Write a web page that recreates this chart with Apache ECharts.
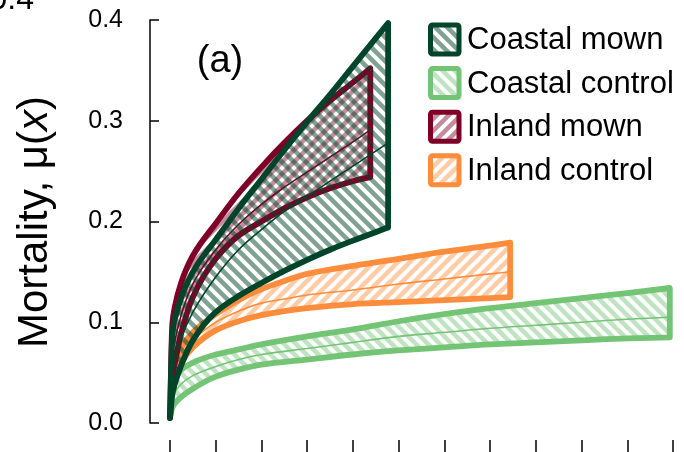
<!DOCTYPE html>
<html><head><meta charset="utf-8">
<script src="https://cdn.jsdelivr.net/npm/echarts@6/dist/echarts.min.js"></script>
<style>html,body{margin:0;padding:0;background:#fff}#c{width:684px;height:452px}</style>
</head><body><div id="c"></div>
<script>
// ---------- data ----------
const groupNames = ['Coastal mown', 'Coastal control', 'Inland mown', 'Inland control'];
const yTickValues = [0, 0.1, 0.2, 0.3, 0.4];
const xTickValues = [0, 1, 2, 3, 4, 5, 6, 7, 8, 9, 10, 11];

// Coastal mown
const cmX     = [0, 0.05, 0.1, 0.25, 0.5, 1, 1.5, 2, 2.5, 3, 3.5, 4, 4.77];
const cmUpper = [0.005, 0.088, 0.102, 0.125, 0.150, 0.182, 0.213, 0.242, 0.271, 0.299, 0.326, 0.354, 0.397];
const cmLower = [0.005, 0.028, 0.038, 0.058, 0.082, 0.110, 0.126, 0.139, 0.151, 0.162, 0.172, 0.181, 0.194];
const cmMean  = [0.005, 0.050, 0.062, 0.085, 0.110, 0.145, 0.172, 0.192, 0.210, 0.225, 0.240, 0.255, 0.278];

// Coastal control
const ccX     = [0, 0.05, 0.1, 0.25, 0.5, 1, 1.5, 2, 3, 4, 5, 6, 7, 8, 9, 10, 10.93];
const ccUpper = [0.005, 0.034, 0.043, 0.053, 0.060, 0.068, 0.073, 0.078, 0.086, 0.093, 0.101, 0.108, 0.114, 0.119, 0.124, 0.129, 0.134];
const ccLower = [0.005, 0.015, 0.019, 0.026, 0.034, 0.046, 0.053, 0.058, 0.063, 0.068, 0.072, 0.075, 0.078, 0.080, 0.082, 0.084, 0.085];
const ccMean  = [0.005, 0.024, 0.030, 0.039, 0.047, 0.056, 0.063, 0.068, 0.074, 0.080, 0.086, 0.090, 0.094, 0.097, 0.100, 0.103, 0.105];

// Inland mown
const imX     = [0, 0.05, 0.1, 0.25, 0.5, 1, 1.5, 2, 2.5, 3, 3.5, 4, 4.38];
const imUpper = [0.005, 0.098, 0.114, 0.140, 0.166, 0.198, 0.228, 0.254, 0.278, 0.300, 0.320, 0.338, 0.352];
const imLower = [0.005, 0.045, 0.058, 0.090, 0.125, 0.163, 0.186, 0.200, 0.213, 0.224, 0.233, 0.240, 0.244];
const imMean  = [0.005, 0.065, 0.080, 0.108, 0.138, 0.172, 0.197, 0.217, 0.234, 0.249, 0.264, 0.279, 0.291];

// Inland control
const icX     = [0, 0.05, 0.1, 0.25, 0.5, 1, 1.5, 2, 2.5, 3, 4, 5, 6, 7, 7.44];
const icUpper = [0.005, 0.050, 0.060, 0.075, 0.090, 0.108, 0.122, 0.133, 0.141, 0.148, 0.156, 0.163, 0.170, 0.176, 0.179];
const icLower = [0.005, 0.035, 0.045, 0.060, 0.075, 0.092, 0.101, 0.107, 0.111, 0.114, 0.118, 0.120, 0.122, 0.124, 0.125];
const icMean  = [0.005, 0.042, 0.052, 0.068, 0.082, 0.100, 0.111, 0.119, 0.123, 0.127, 0.132, 0.138, 0.143, 0.148, 0.150];

// ---------- styling ----------
const FONT = '"Liberation Sans", Arial, Helvetica, sans-serif';
const styles = {
  'Coastal mown':    { line: '#00452a', hatch: 'rgba(0,69,42,0.5)',      dir: 'back' },
  'Coastal control': { line: '#74c476', hatch: 'rgba(116,196,118,0.45)', dir: 'back' },
  'Inland mown':     { line: '#7f0026', hatch: 'rgba(127,0,38,0.45)',    dir: 'fwd' },
  'Inland control':  { line: '#fd8d3c', hatch: 'rgba(253,141,60,0.45)',  dir: 'fwd' }
};

function hatch(color, dir) {
  const s = 12;
  const c = document.createElement('canvas');
  c.width = s; c.height = s;
  const g = c.getContext('2d');
  g.strokeStyle = color; g.lineWidth = 4.5; g.lineCap = 'square';
  for (const o of [-s, 0, s]) {
    g.beginPath();
    if (dir === 'back') { g.moveTo(o, 0); g.lineTo(o + s, s); }
    else { g.moveTo(o, s); g.lineTo(o + s, 0); }
    g.stroke();
  }
  return { image: c, repeat: 'repeat' };
}

// monotone cubic (Fritsch-Butland) path through pixel points, x strictly monotone
function curve(P, cmd) {
  const n = P.length, d = [], h = [], m = [];
  for (let i = 0; i < n - 1; i++) { h[i] = P[i + 1][0] - P[i][0]; d[i] = (P[i + 1][1] - P[i][1]) / h[i]; }
  m[0] = d[0]; m[n - 1] = d[n - 2];
  for (let i = 1; i < n - 1; i++) {
    if (d[i - 1] * d[i] <= 0) m[i] = 0;
    else m[i] = 3 * (h[i - 1] + h[i]) / ((2 * h[i] + h[i - 1]) / d[i - 1] + (h[i] + 2 * h[i - 1]) / d[i]);
  }
  let s = cmd + P[0][0].toFixed(2) + ' ' + P[0][1].toFixed(2);
  for (let i = 0; i < n - 1; i++) {
    const c1x = P[i][0] + h[i] / 3, c1y = P[i][1] + m[i] * h[i] / 3;
    const c2x = P[i + 1][0] - h[i] / 3, c2y = P[i + 1][1] - m[i + 1] * h[i] / 3;
    s += ' C' + [c1x, c1y, c2x, c2y, P[i + 1][0], P[i + 1][1]].map(v => v.toFixed(2)).join(' ');
  }
  return s;
}

const LW = 5.8;
function bandSeries(name, xs, up, lo, mn, z) {
  const st = styles[name];
  const pat = hatch(st.hatch, st.dir);
  return {
    type: 'custom', name: name, coordinateSystem: 'cartesian2d', silent: true, z: z, clip: false,
    data: xs.map((x, i) => [x, lo[i], up[i], mn[i]]),
    encode: { x: 0, y: [1, 2, 3] },
    renderItem: function (params, api) {
      if (params.dataIndexInside !== 0) return null;
      const n = params.dataInsideLength || xs.length;
      const U = [], L = [], M = [];
      for (let i = 0; i < n; i++) {
        const x = api.value(0, i);
        L.push(api.coord([x, api.value(1, i)]));
        U.push(api.coord([x, api.value(2, i)]));
        M.push(api.coord([x, api.value(3, i)]));
      }
      const outline = curve(U, 'M') + ' ' + curve(L.slice().reverse(), 'L') + ' Z';
      return {
        type: 'group',
        children: [
          { type: 'path', shape: { pathData: outline }, style: { fill: pat, stroke: null } },
          { type: 'path', shape: { pathData: curve(M, 'M') }, style: { fill: null, stroke: st.line, lineWidth: 1.6 } },
          { type: 'path', shape: { pathData: outline }, style: { fill: null, stroke: st.line, lineWidth: LW, lineJoin: 'round', lineCap: 'round' } }
        ]
      };
    }
  };
}

const series = [
  bandSeries('Coastal control', ccX, ccUpper, ccLower, ccMean, 2),
  bandSeries('Inland control', icX, icUpper, icLower, icMean, 3),
  bandSeries('Inland mown', imX, imUpper, imLower, imMean, 4),
  bandSeries('Coastal mown', cmX, cmUpper, cmLower, cmMean, 5)
];

// legend drawn as graphics
const legendGraphics = [];
groupNames.forEach((nm, i) => {
  const st = styles[nm];
  const cy = 39.5 + i * 43.6;
  legendGraphics.push({
    type: 'rect', shape: { x: 430.5, y: cy - 14.5, width: 28.5, height: 29, r: 2 },
    style: { fill: hatch(st.hatch, st.dir), stroke: st.line, lineWidth: 5 }, z: 10
  });
  legendGraphics.push({
    type: 'text', x: 467, y: cy + 1, z: 10,
    style: { text: nm, fontSize: 31, fontFamily: FONT, fill: '#000', textAlign: 'left', textVerticalAlign: 'middle' }
  });
});

const chart = echarts.init(document.getElementById('c'), null, { renderer: 'canvas' });
chart.setOption({
  animation: false,
  backgroundColor: '#fff',
  grid: { left: 170, right: 11, top: 20, bottom: 29, containLabel: false },
  xAxis: {
    type: 'value', min: xTickValues[0], max: xTickValues[xTickValues.length - 1], interval: 1, offset: 33,
    axisLine: { show: true, onZero: false, lineStyle: { color: '#000', width: 1.5 } },
    axisTick: { show: true, inside: true, length: 16, lineStyle: { color: '#000', width: 1.5 } },
    axisLabel: { show: false }, splitLine: { show: false }
  },
  yAxis: {
    type: 'value', min: yTickValues[0], max: yTickValues[yTickValues.length - 1], interval: 0.1, offset: 20,
    axisLine: { show: true, onZero: false, lineStyle: { color: '#000', width: 1.5 } },
    axisTick: { show: true, inside: true, length: 9, lineStyle: { color: '#000', width: 1.5 } },
    axisLabel: { margin: 27, fontSize: 25, color: '#000', fontFamily: FONT, formatter: v => v.toFixed(1) },
    splitLine: { show: false }
  },
  series: series,
  graphic: [
    { type: 'text', x: 220, y: 62, z: 10, style: { text: '(a)', fontSize: 38, fontFamily: FONT, fill: '#000', textAlign: 'center', textVerticalAlign: 'middle' } },
    { type: 'text', x: 35, y: 222, rotation: Math.PI / 2,
      style: { text: '{n|Mortality, μ(}{i|x}{n|)}', fontFamily: FONT, fill: '#000', textAlign: 'center', textVerticalAlign: 'middle',
        rich: { n: { fontSize: 42, fontFamily: FONT, fill: '#000' }, i: { fontSize: 42, fontFamily: FONT, fontStyle: 'italic', fill: '#000' } } } },
    { type: 'text', x: 34, y: 16, style: { text: '0.4', fontSize: 32, fontFamily: FONT, fill: '#000', textAlign: 'right', textVerticalAlign: 'bottom' } }
  ].concat(legendGraphics)
});
</script>
</body></html>
